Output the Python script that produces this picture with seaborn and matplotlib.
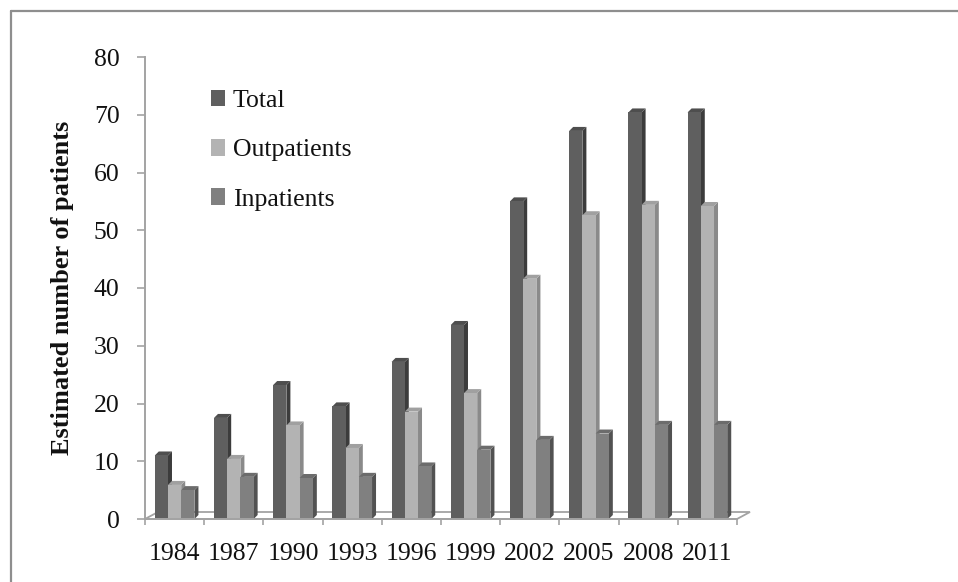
import numpy as np
import pandas as pd
import seaborn as sns
import matplotlib
matplotlib.use("Agg")
import matplotlib.pyplot as plt
from matplotlib.patches import Polygon
from matplotlib.lines import Line2D
from matplotlib.transforms import IdentityTransform

# Survey years and estimated patient counts per series
years = ["1984", "1987", "1990", "1993", "1996", "1999", "2002", "2005", "2008", "2011"]
series = ["Total", "Outpatients", "Inpatients"]
total = [11.0, 17.5, 23.2, 19.5, 27.2, 33.6, 55.0, 67.2, 70.4, 70.4]
outpatients = [5.9, 10.4, 16.2, 12.3, 18.6, 21.8, 41.6, 52.6, 54.4, 54.2]
inpatients = [5.0, 7.3, 7.1, 7.3, 9.1, 12.0, 13.7, 14.8, 16.3, 16.3]
y_ticks = [0, 10, 20, 30, 40, 50, 60, 70, 80]

front_colors = ["#5f5f5f", "#b3b3b3", "#808080"]
side_colors = ["#3c3c3c", "#8a8a8a", "#525252"]
top_colors = ["#4e4e4e", "#a0a0a0", "#6c6c6c"]
grid_grey = "#a3a3a3"

df = pd.DataFrame({
    "year": np.repeat(years, 3),
    "series": series * len(years),
    "value": np.ravel(np.column_stack([total, outpatients, inpatients])),
})

sns.set_theme(style="white")
plt.rcParams["font.family"] = ["Liberation Serif", "DejaVu Serif"]

W, H = 958, 582
fig = plt.figure(figsize=(W / 100, H / 100), dpi=100)
fig.patch.set_facecolor("white")

# Axes box in pixels: y-axis at x=145, value 0 at y=519, value 80 at y=57
left_px, right_px, y0_px, y80_px = 145, 737, 519, 57
ax = fig.add_axes([left_px / W, 1 - y0_px / H, (right_px - left_px) / W, (y0_px - y80_px) / H])

sns.barplot(data=df, x="year", y="value", hue="series", hue_order=series,
            palette=front_colors, saturation=1, width=0.67, dodge=True,
            legend=False, ax=ax, linewidth=0)

ax.set_xlim(-0.5, len(years) - 0.5)
ax.set_ylim(0, 80)
ax.set_yticks(y_ticks)
ax.set_facecolor("none")

for s in ["top", "right"]:
    ax.spines[s].set_visible(False)
ax.spines["left"].set_color(grid_grey)
ax.spines["left"].set_linewidth(1.4)
ax.spines["bottom"].set_color(grid_grey)
ax.spines["bottom"].set_linewidth(1.4)

ax.tick_params(axis="y", direction="out", length=5.8, width=1.2, color=grid_grey,
               labelsize=18.5, pad=12.5, left=True)
ax.set_xticks(range(len(years)))
ax.set_xticklabels(years)
ax.set_xticks(np.arange(-0.5, len(years), 1.0), minor=True)
ax.tick_params(axis="x", which="major", length=0, labelsize=18.5, pad=17.5)
ax.tick_params(axis="x", which="minor", direction="out", length=4.5, width=1.2,
               color=grid_grey, bottom=True)
for lab in ax.get_yticklabels() + ax.get_xticklabels():
    lab.set_color("#111111")

ax.set_xlabel("")
ax.set_ylabel("Estimated number of patients", fontsize=19, fontweight="bold",
              color="#111111", labelpad=14)

# Pseudo-3D depth offset of bars (pixels) and of the floor
dx, dy = 4.0, 4.0
fdx, fdy = 13.0, 7.0
to_px = ax.transData.transform
ident = IdentityTransform()

# Floor plate behind the bars
fl = to_px([(-0.5, 0), (len(years) - 0.5, 0)])
floor = np.array([fl[0], fl[1], fl[1] + [fdx, fdy], fl[0] + [fdx, fdy]])
ax.add_patch(Polygon(floor, closed=True, facecolor="white", edgecolor=grid_grey,
                     linewidth=1.3, transform=ident, zorder=0.5, clip_on=False))

# Side and top faces for every bar, layered left to right inside each group
for k, cont in enumerate(ax.containers):
    for bar in cont.patches:
        x0, x1 = bar.get_x(), bar.get_x() + bar.get_width()
        h = bar.get_height()
        (px0, pyb), (px1, pyt) = to_px([(x0, 0), (x1, h)])
        side = [(px1, pyb), (px1, pyt), (px1 + dx, pyt + dy), (px1 + dx, pyb + dy)]
        top = [(px0, pyt), (px1, pyt), (px1 + dx, pyt + dy), (px0 + dx, pyt + dy)]
        z = 2 + 0.2 * k
        ax.add_patch(Polygon(side, closed=True, facecolor=side_colors[k], edgecolor="none",
                             transform=ident, zorder=z, clip_on=False))
        ax.add_patch(Polygon(top, closed=True, facecolor=top_colors[k], edgecolor="none",
                             transform=ident, zorder=z, clip_on=False))
        bar.set_zorder(z + 0.1)

leg = ax.legend(ax.containers, series, loc="upper left",
                bbox_to_anchor=(211 / W, 1 - 90 / H), bbox_transform=fig.transFigure,
                frameon=False, fontsize=18.5, handlelength=0.55, handleheight=0.6,
                handletextpad=0.3, labelspacing=1.05, borderpad=0, borderaxespad=0)
for t in leg.get_texts():
    t.set_color("#111111")

# Chart-area border (top and left edges)
fig.add_artist(Line2D([10.5 / W, 10.5 / W], [0, 1 - 11 / H], transform=fig.transFigure,
                      color="#8e8e8e", linewidth=1.6))
fig.add_artist(Line2D([10.5 / W, 1], [1 - 11 / H, 1 - 11 / H], transform=fig.transFigure,
                      color="#8e8e8e", linewidth=1.6))

fig.savefig("out.png", dpi=100, facecolor="white")
